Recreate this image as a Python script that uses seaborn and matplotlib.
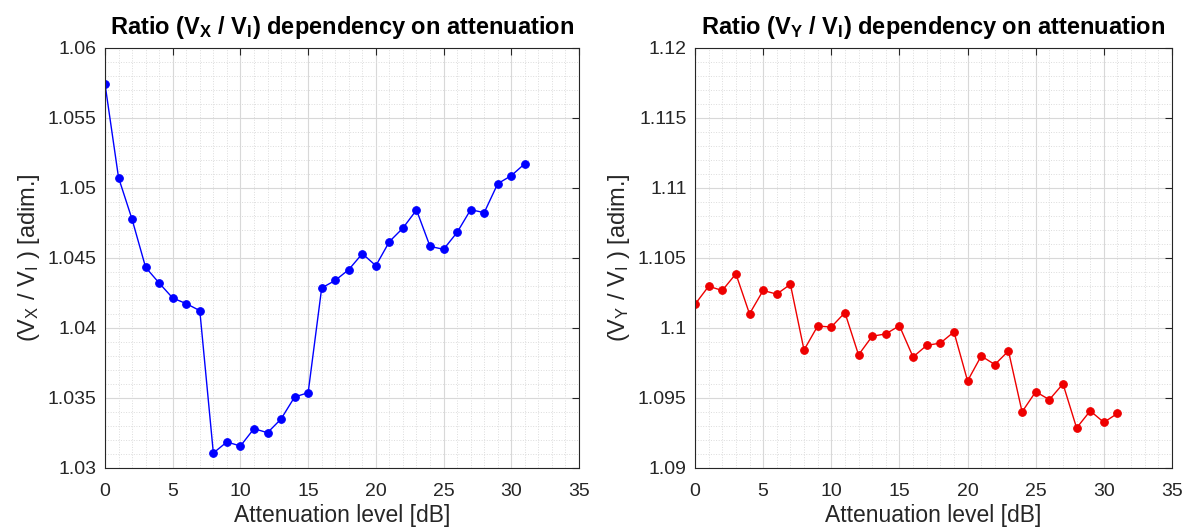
import numpy as np
import pandas as pd
import seaborn as sns
import matplotlib
matplotlib.use("Agg")
import matplotlib.pyplot as plt
from matplotlib.ticker import MultipleLocator, FuncFormatter

# ---- data ----
attenuation = list(range(32))
ratio_x = [1.05743, 1.05074, 1.04776, 1.04433, 1.04321, 1.04214, 1.04174, 1.04124,
           1.03107, 1.03186, 1.03157, 1.03281, 1.03252, 1.03350, 1.03507, 1.03538,
           1.04286, 1.04340, 1.04417, 1.04531, 1.04445, 1.04617, 1.04714, 1.04843,
           1.04583, 1.04562, 1.04683, 1.04845, 1.04824, 1.05031, 1.05088, 1.05174]
ratio_y = [1.10169, 1.10298, 1.10268, 1.10387, 1.10101, 1.10268, 1.10242, 1.10312,
           1.09843, 1.10014, 1.10007, 1.10110, 1.09808, 1.09941, 1.09958, 1.10016,
           1.09793, 1.09876, 1.09892, 1.09972, 1.09622, 1.09800, 1.09739, 1.09836,
           1.09401, 1.09545, 1.09488, 1.09601, 1.09286, 1.09408, 1.09326, 1.09390]
x_ticks = [0, 5, 10, 15, 20, 25, 30, 35]

sns.set_theme(style="white")
plt.rcParams['font.family'] = ['Liberation Sans', 'DejaVu Sans']
plt.rcParams['mathtext.fontset'] = 'custom'
plt.rcParams['mathtext.rm'] = 'Liberation Sans'
plt.rcParams['mathtext.it'] = 'Liberation Sans'
plt.rcParams['mathtext.bf'] = 'Liberation Sans:bold'

fig = plt.figure(figsize=(11.92, 5.32), dpi=100)
ax1 = fig.add_axes([105/1192, 64/532, 474/1192, 420/532])
ax2 = fig.add_axes([695/1192, 64/532, 477/1192, 420/532])

df = pd.DataFrame({"att": attenuation, "rx": ratio_x, "ry": ratio_y})

sns.lineplot(data=df, x="att", y="rx", ax=ax1, color="#0000ff", marker="o",
             markersize=5.5, markeredgecolor="#0000ff", linewidth=1.0)
sns.lineplot(data=df, x="att", y="ry", ax=ax2, color="#ee0000", marker="o",
             markersize=5.5, markeredgecolor="#ee0000", linewidth=1.0)

fmt = FuncFormatter(lambda v, p: f"{v:g}")
configs = [
    (ax1, (1.03, 1.06), r"Ratio (V$_\mathbf{X}$ / V$_\mathbf{I}$) dependency on attenuation",
     r"(V$_\mathrm{X}$ / V$_\mathrm{I}$ ) [adim.]"),
    (ax2, (1.09, 1.12), r"Ratio (V$_\mathbf{Y}$ / V$_\mathbf{I}$) dependency on attenuation",
     r"(V$_\mathrm{Y}$ / V$_\mathrm{I}$ ) [adim.]"),
]
for ax, ylim, title, ylabel in configs:
    ax.set_xlim(0, 35)
    ax.set_ylim(*ylim)
    ax.set_xticks(x_ticks)
    ax.yaxis.set_major_locator(MultipleLocator(0.005))
    ax.yaxis.set_major_formatter(fmt)
    ax.xaxis.set_minor_locator(MultipleLocator(1))
    ax.yaxis.set_minor_locator(MultipleLocator(0.001))
    ax.grid(True, which="major", color="#d8d8d8", linewidth=0.8, linestyle="-")
    ax.grid(True, which="minor", color="#dcdcdc", linewidth=0.7, linestyle=":")
    ax.set_axisbelow(True)
    ax.tick_params(which="major", direction="in", length=5, top=True, right=True,
                   labelsize=14, colors="#262626", width=0.8)
    ax.tick_params(axis="x", which="major", pad=11)
    ax.tick_params(axis="y", which="major", pad=6)
    ax.tick_params(which="minor", length=0, top=True, right=True)
    for s in ax.spines.values():
        s.set_color("#262626")
        s.set_linewidth(0.8)
    ax.set_title(title, fontsize=17, fontweight="bold", color="black", pad=10)
    ax.set_xlabel("Attenuation level [dB]", fontsize=16.5, color="#262626", labelpad=3)
    ax.set_ylabel(ylabel, fontsize=17, color="#262626", labelpad=4)

fig.savefig("out.png", dpi=100)
